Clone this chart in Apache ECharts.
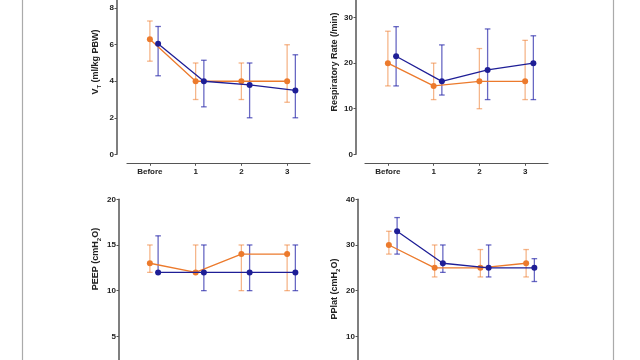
<!DOCTYPE html>
<html><head><meta charset="utf-8">
<script src="https://cdn.jsdelivr.net/npm/echarts@6/dist/echarts.min.js"></script>
<style>html,body{margin:0;padding:0;background:#fff}#c{width:640px;height:360px}</style>
</head><body><div id="c"></div>
<script>
const categories = ['Before', '1', '2', '3'];
// VT (ml/kg PBW)
const vtOrange = [6.3, 4.0, 4.0, 4.0];
const vtOrangeLow = [5.1, 3.0, 3.0, 2.85];
const vtOrangeHigh = [7.3, 5.0, 5.0, 6.0];
const vtBlue = [6.05, 4.0, 3.8, 3.5];
const vtBlueLow = [4.3, 2.6, 2.0, 2.0];
const vtBlueHigh = [7.0, 5.15, 5.0, 5.45];
// Respiratory rate (/min)
const rrOrange = [20, 15, 16, 16];
const rrOrangeLow = [15, 12, 10, 12];
const rrOrangeHigh = [27, 20, 23.2, 25];
const rrBlue = [21.5, 16, 18.5, 20];
const rrBlueLow = [15, 13, 12, 12];
const rrBlueHigh = [28, 24, 27.5, 26];
// PEEP (cmH2O)
const peepOrange = [13, 12, 14, 14];
const peepOrangeLow = [12, 12, 10, 10];
const peepOrangeHigh = [15, 15, 15, 15];
const peepBlue = [12, 12, 12, 12];
const peepBlueLow = [12, 10, 10, 10];
const peepBlueHigh = [16, 15, 15, 15];
// PPlat (cmH2O)
const ppOrange = [30, 25, 25, 26];
const ppOrangeLow = [28, 23, 23, 23];
const ppOrangeHigh = [33, 30, 29, 29];
const ppBlue = [33, 26, 25, 25];
const ppBlueLow = [28, 24, 23, 22];
const ppBlueHigh = [36, 30, 30, 27];
// y tick labels
const vtTicks = [0, 2, 4, 6, 8];
const rrTicks = [0, 10, 20, 30];
const peepTicks = [0, 5, 10, 15, 20];
const ppTicks = [0, 10, 20, 30, 40];

const ORANGE = '#EC7A2C', BLUE = '#1E1E96';
const ORANGE_ERR = 'rgba(236,122,44,0.55)', BLUE_ERR = 'rgba(40,40,170,0.7)';
const BLUE_SHIFT = 0.18;
const FONT = 'Liberation Sans';

const panels = [
  {left:127, top:0, width:183, height:154.3, ymax:8.45, ticks:vtTicks, yoff:10, o:[vtOrange,vtOrangeLow,vtOrangeHigh], b:[vtBlue,vtBlueLow,vtBlueHigh]},
  {left:365, top:0, width:183, height:154.3, ymax:33.85, ticks:rrTicks, yoff:9, o:[rrOrange,rrOrangeLow,rrOrangeHigh], b:[rrBlue,rrBlueLow,rrBlueHigh]},
  {left:127, top:199.3, width:183, height:182.7, ymax:20, ticks:peepTicks, yoff:8, o:[peepOrange,peepOrangeLow,peepOrangeHigh], b:[peepBlue,peepBlueLow,peepBlueHigh]},
  {left:366, top:199.3, width:183, height:182.7, ymax:40, ticks:ppTicks, yoff:8, o:[ppOrange,ppOrangeLow,ppOrangeHigh], b:[ppBlue,ppBlueLow,ppBlueHigh]}
];

const grid = [], xAxis = [], yAxis = [], series = [];
function errSeries(i, vals, lows, highs, shift, color) {
  return {
    type:'custom', xAxisIndex:i, yAxisIndex:i, z:2, silent:true, clip:false,
    data: vals.map((v,k)=>[k+shift, lows[k], highs[k]]),
    encode:{x:0, y:[1,2]},
    renderItem(params, api) {
      const x = api.value(0);
      const lo = api.coord([x, api.value(1)]);
      const hi = api.coord([x, api.value(2)]);
      const w = 2.8;
      const st = {stroke:color, lineWidth:1.3};
      return {type:'group', children:[
        {type:'line', shape:{x1:lo[0], y1:lo[1], x2:hi[0], y2:hi[1]}, style:st},
        {type:'line', shape:{x1:lo[0]-w, y1:lo[1], x2:lo[0]+w, y2:lo[1]}, style:st},
        {type:'line', shape:{x1:hi[0]-w, y1:hi[1], x2:hi[0]+w, y2:hi[1]}, style:st}
      ]};
    }
  };
}
panels.forEach((p,i)=>{
  grid.push({left:p.left, top:p.top, width:p.width, height:p.height, containLabel:false, outerBoundsMode:'none'});
  xAxis.push({type:'value', gridIndex:i, min:-0.5, max:3.5, offset:9,
    axisLine:{show:true, onZero:false, lineStyle:{color:'#555', width:1.2}},
    axisTick:{show:true, length:2.5, lineStyle:{color:'#555'}, customValues:[0,1,2,3]},
    axisLabel:{show:true, customValues:[0,1,2,3], formatter:v=>categories[Math.round(v)], color:'#222', fontSize:8, fontWeight:'bold', fontFamily:FONT, margin:4},
    splitLine:{show:false}});
  yAxis.push({type:'value', gridIndex:i, min:0, max:p.ymax, offset:p.yoff,
    axisLine:{show:true, onZero:false, lineStyle:{color:'#555', width:1.5}},
    axisTick:{show:true, length:2.5, lineStyle:{color:'#555'}, customValues:p.ticks},
    axisLabel:{show:true, customValues:p.ticks, color:'#222', fontSize:8, fontWeight:'bold', fontFamily:FONT, margin:3},
    splitLine:{show:false}});
  series.push(errSeries(i, p.o[0], p.o[1], p.o[2], 0, ORANGE_ERR));
  series.push(errSeries(i, p.b[0], p.b[1], p.b[2], BLUE_SHIFT, BLUE_ERR));
  series.push({type:'line', xAxisIndex:i, yAxisIndex:i, z:3, data:p.o[0].map((v,k)=>[k,v]),
    symbol:'circle', symbolSize:6, itemStyle:{color:ORANGE}, lineStyle:{color:ORANGE, width:1.3}, silent:true});
  series.push({type:'line', xAxisIndex:i, yAxisIndex:i, z:4, data:p.b[0].map((v,k)=>[k+BLUE_SHIFT,v]),
    symbol:'circle', symbolSize:6, itemStyle:{color:BLUE}, lineStyle:{color:BLUE, width:1.3}, silent:true});
});

const rich = {
  b:{fontSize:9, fontWeight:'bold', fontFamily:FONT, fill:'#222', lineHeight:12, verticalAlign:'middle'},
  s:{fontSize:6, fontWeight:'bold', fontFamily:FONT, fill:'#222', lineHeight:12, verticalAlign:'bottom', padding:[4,0,0,0]}
};
function title(x, y, txt) {
  return {type:'text', x:x, y:y, rotation:Math.PI/2,
    style:{text:txt, rich:rich, align:'center', verticalAlign:'middle', fill:'#222', fontSize:9, fontWeight:'bold', fontFamily:FONT}};
}
const option = {
  animation:false,
  grid, xAxis, yAxis, series,
  graphic:[
    {type:'line', shape:{x1:22.5, y1:0, x2:22.5, y2:360}, style:{stroke:'#aaa', lineWidth:1.2}},
    {type:'line', shape:{x1:613.5, y1:0, x2:613.5, y2:360}, style:{stroke:'#aaa', lineWidth:1.2}},
    title(96, 62, '{b|V}{s|T}{b| (ml/kg PBW)}'),
    title(335, 62, '{b|Respiratory Rate (/min)}'),
    title(96, 259, '{b|PEEP (cmH}{s|2}{b|O)}'),
    title(335, 289, '{b|PPlat (cmH}{s|2}{b|O)}')
  ]
};
echarts.init(document.getElementById('c'), null, {renderer:'canvas'}).setOption(option);
</script></body></html>
